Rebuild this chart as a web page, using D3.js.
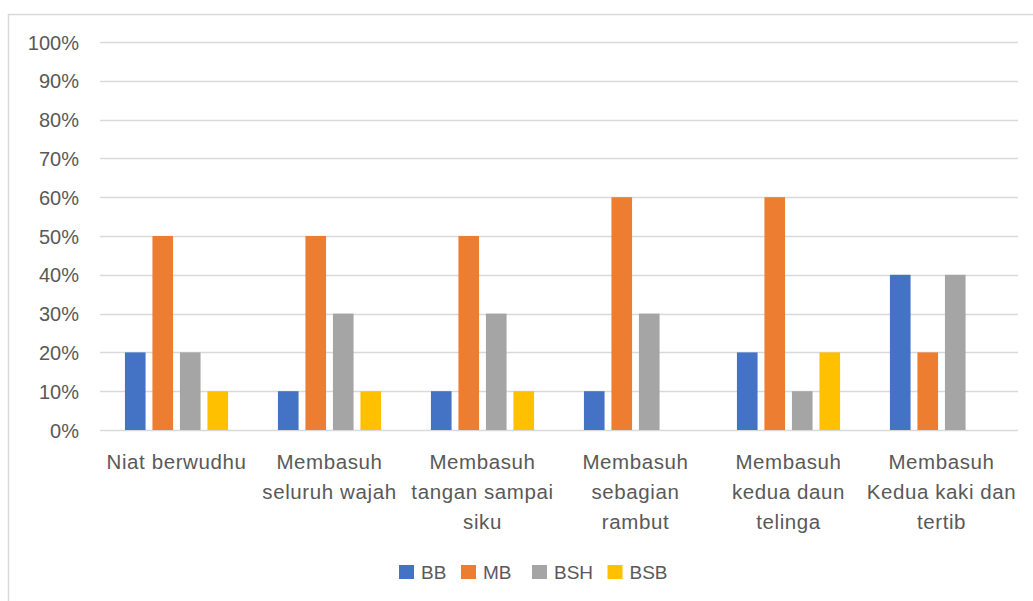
<!DOCTYPE html>
<html><head><meta charset="utf-8">
<script src="https://cdn.jsdelivr.net/npm/d3@7"></script>
<style>body{margin:0;background:#fff;overflow:hidden}</style>
</head><body>
<svg id="c" width="1033" height="601"></svg>
<script>
const categories = [
  ["Niat berwudhu"],
  ["Membasuh","seluruh wajah"],
  ["Membasuh","tangan sampai","siku"],
  ["Membasuh","sebagian","rambut"],
  ["Membasuh","kedua daun","telinga"],
  ["Membasuh","Kedua kaki dan","tertib"]
];
const seriesNames = ["BB","MB","BSH","BSB"];
const BB  = [0.20,0.10,0.10,0.10,0.20,0.40];
const MB  = [0.50,0.50,0.50,0.60,0.60,0.20];
const BSH = [0.20,0.30,0.30,0.30,0.10,0.40];
const BSB = [0.10,0.10,0.10,0.00,0.20,0.00];
const yTicks = [0,0.1,0.2,0.3,0.4,0.5,0.6,0.7,0.8,0.9,1.0];
const colors = ["#4472C4","#ED7D31","#A5A5A5","#FFC000"];
const seriesVals = [BB,MB,BSH,BSB];

(function(){
const svg = d3.select("#c");
const font = "'Liberation Sans', Arial, sans-serif";
const textColor = "#595959";

svg.append("rect").attr("x",8.5).attr("y",14.5).attr("width",1100).attr("height",700)
  .attr("fill","#fff").attr("stroke","#D9D9D9").attr("stroke-width",1.5);

const pL=100, pR=1018, pT=42, pB=430;
const catIdx = categories.map((d,i)=>i);
const x0 = d3.scaleBand().domain(catIdx).range([pL,pR]).paddingInner(0.281).paddingOuter(0.1405);
const x1 = d3.scaleBand().domain(seriesNames).range([0,x0.bandwidth()]).paddingInner(0.25).paddingOuter(0.125);
const y = d3.scaleLinear().domain([0,1]).range([pB,pT]);

svg.append("g").selectAll("line").data(yTicks).join("line")
  .attr("x1",pL).attr("x2",pR)
  .attr("y1",d=>Math.round(y(d))+0.5).attr("y2",d=>Math.round(y(d))+0.5)
  .attr("stroke","#D9D9D9").attr("stroke-width",1.5);

const yAxis = d3.axisLeft(y).tickValues(yTicks).tickFormat(d3.format(".0%")).tickSize(0).tickPadding(0);
const ga = svg.append("g").attr("transform",`translate(${79},0)`).call(yAxis);
ga.select(".domain").remove();
ga.selectAll("text").attr("font-family",font).attr("font-size",20).attr("fill",textColor).attr("dy","0.35em");

const g = svg.append("g");
catIdx.forEach(ci=>{
  seriesNames.forEach((s,si)=>{
    const v = seriesVals[si][ci];
    if(v<=0) return;
    g.append("rect")
      .attr("x",x0(ci)+x1(s)).attr("width",x1.bandwidth())
      .attr("y",y(v)).attr("height",y(0)-y(v))
      .attr("fill",colors[si]);
  });
});

const cl = svg.append("g");
categories.forEach((lines,ci)=>{
  const cx = x0(ci)+x0.bandwidth()/2;
  const t = cl.append("text").attr("text-anchor","middle").attr("font-family",font)
    .attr("font-size",20.5).attr("fill",textColor).attr("letter-spacing",0.6);
  lines.forEach((ln,li)=>{
    t.append("tspan").attr("x",cx).attr("y",469+li*30).text(ln);
  });
});

const legendX = [399,461,532,607.5];
const lg = svg.append("g");
seriesNames.forEach((s,si)=>{
  lg.append("rect").attr("x",legendX[si]).attr("y",565).attr("width",15).attr("height",14).attr("fill",colors[si]);
  lg.append("text").attr("x",legendX[si]+22).attr("y",579).attr("font-family",font)
    .attr("font-size",19).attr("fill",textColor).text(s);
});
})();
</script>
</body></html>
